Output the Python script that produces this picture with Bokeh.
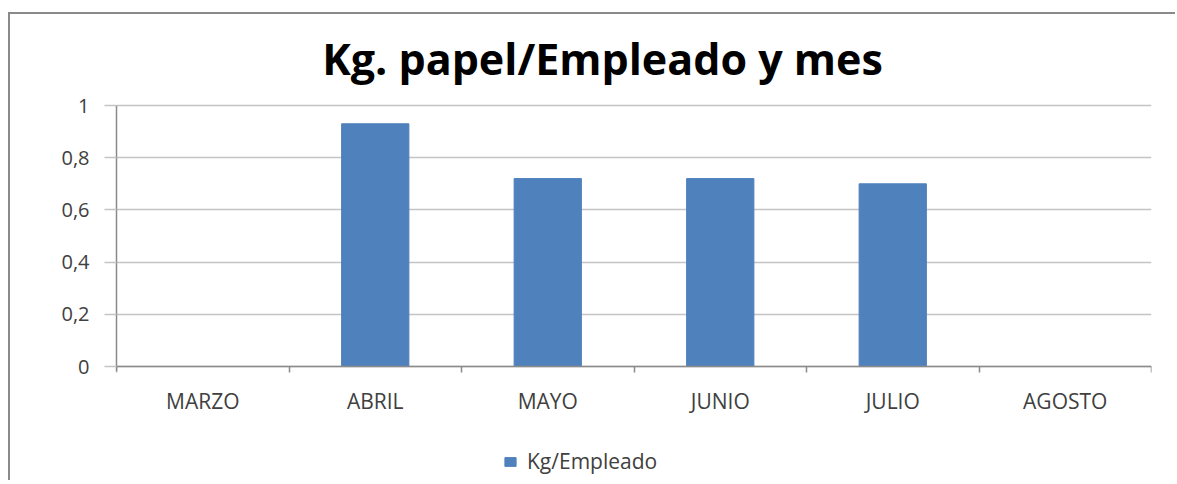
from bokeh.plotting import figure
from bokeh.models import FixedTicker, Label, Legend, LegendItem, Range1d
from bokeh.embed import file_html
from bokeh.resources import INLINE

months = ["MARZO", "ABRIL", "MAYO", "JUNIO", "JULIO", "AGOSTO"]
kg_por_empleado = [0, 0.93, 0.72, 0.72, 0.70, 0]
y_ticks = [0, 0.2, 0.4, 0.6, 0.8, 1.0]
y_tick_labels = ["0", "0,2", "0,4", "0,6", "0,8", "1"]
title_text = "Kg. papel/Empleado y mes"
series_name = "Kg/Empleado"

FONT = "Open Sans"
TXT = "#404040"

x_pos = [i + 0.5 for i in range(len(months))]

# frame covers the full canvas height; the value axis runs 0..1 in its middle part
p = figure(width=1167, height=468, output_backend="svg", toolbar_location=None,
           x_range=Range1d(0, len(months)), y_range=Range1d(-0.4444, 1.3487),
           min_border_left=106, min_border_right=26, min_border_top=0, min_border_bottom=0)
p.styles = {"border-top": "2px solid #8a8a8a", "border-left": "2px solid #8a8a8a",
            "margin-top": "12px", "margin-left": "8px"}
p.outline_line_color = None
p.background_fill_color = "white"
p.border_fill_color = "white"

r = p.vbar(x=x_pos, top=kg_por_empleado, width=0.39, color="#4F81BD")

# y axis
p.yaxis.ticker = FixedTicker(ticks=y_ticks, minor_ticks=[])
p.yaxis.bounds = (-0.02, 1)
p.yaxis.major_label_overrides = {t: l for t, l in zip(y_ticks, y_tick_labels)}
p.yaxis.major_tick_out = 12
p.yaxis.major_tick_in = 0
p.yaxis.major_label_standoff = 15
p.yaxis.major_label_text_font = FONT
p.yaxis.major_label_text_font_size = "20px"
p.yaxis.major_label_text_color = TXT
p.yaxis.axis_line_color = "#8a8a8a"
p.yaxis.axis_line_width = 1.5
p.yaxis.major_tick_line_color = "#c4c4c4"
p.yaxis.major_tick_line_width = 1.5

# x axis (sits at value 0)
p.xaxis.fixed_location = 0
p.xaxis.ticker = FixedTicker(ticks=x_pos, minor_ticks=list(range(len(months) + 1)))
p.xaxis.major_label_overrides = {x: m for x, m in zip(x_pos, months)}
p.xaxis.major_tick_line_color = None
p.xaxis.major_tick_out = 0
p.xaxis.major_tick_in = 0
p.xaxis.minor_tick_out = 6
p.xaxis.minor_tick_in = 0
p.xaxis.minor_tick_line_color = "#8a8a8a"
p.xaxis.minor_tick_line_width = 1.5
p.xaxis.major_label_standoff = 14
p.xaxis.major_label_text_font = FONT
p.xaxis.major_label_text_font_size = "21px"
p.xaxis.major_label_text_color = TXT
p.xaxis.axis_line_color = "#8a8a8a"
p.xaxis.axis_line_width = 1.5

p.xgrid.grid_line_color = None
p.ygrid.ticker = FixedTicker(ticks=y_ticks)
p.ygrid.grid_line_color = "#c4c4c4"
p.ygrid.grid_line_width = 1.5

title = Label(x=2.8174, y=1.18, text=title_text, text_align="center", text_baseline="alphabetic",
              text_font=FONT, text_font_style="bold", text_font_size="43px", text_color="black")
p.add_layout(title)

legend = Legend(items=[LegendItem(label=series_name, renderers=[r])], location=(387, 7),
                padding=0, margin=0, border_line_color=None, background_fill_alpha=0,
                glyph_width=14, glyph_height=11, label_standoff=10,
                label_text_font=FONT, label_text_font_size="21px", label_text_color=TXT)
p.add_layout(legend, "center")

open("out.html", "w").write(file_html(p, INLINE))
